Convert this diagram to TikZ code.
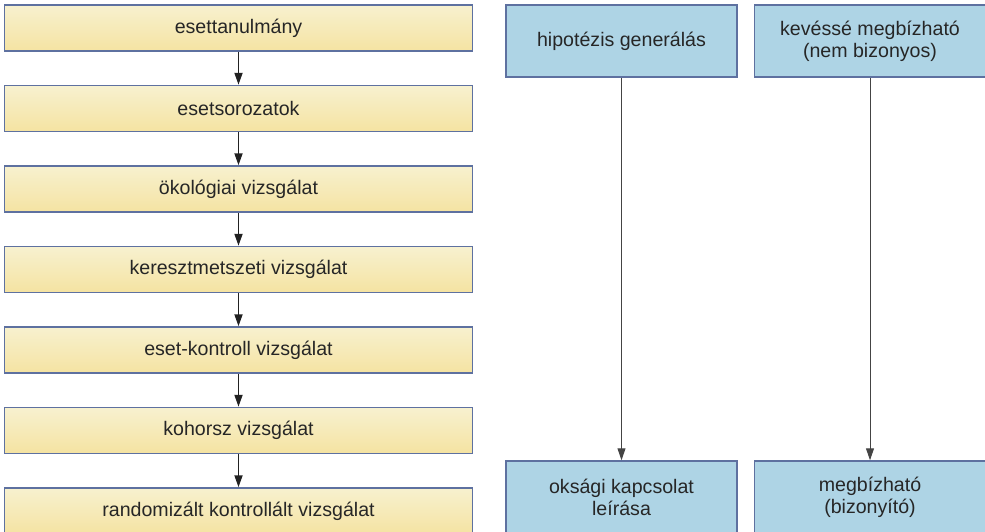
\documentclass[tikz,border=0pt]{standalone}
\usepackage{fontspec}
\setmainfont{Liberation Sans}
\usepackage{xcolor}
\usetikzlibrary{positioning, arrows.meta}

\definecolor{boxline}{HTML}{5E71A0}
\definecolor{yellowtop}{HTML}{F7F1CF}
\definecolor{yellowbot}{HTML}{F5E3A2}
\definecolor{bluefill}{HTML}{AED4E5}
\definecolor{arrowdark}{HTML}{222222}
\definecolor{arrowgray}{HTML}{444444}

\tikzset{
  studybox/.style={draw=boxline, line width=1.5pt, top color=yellowtop, bottom color=yellowbot,
    minimum width=468pt, minimum height=46pt, inner sep=0pt,
    font=\fontsize{19.6}{22}\selectfont, text=black!85},
  evidbox/.style={draw=boxline, line width=1.5pt, fill=bluefill,
    minimum width=231pt, minimum height=72pt, inner sep=0pt, align=center,
    font=\fontsize{19.6}{22}\selectfont, text=black!85},
  levelarrow/.style={-{Triangle[length=12pt,width=8pt]}, arrowdark, line width=1.8pt},
  sidearrow/.style={-{Triangle[length=12pt,width=8pt]}, arrowgray, line width=1pt}
}

\begin{document}
\begin{tikzpicture}[x=1pt,y=-1pt]

\useasboundingbox (0,0) rectangle (985,531);

% study designs, weakest to strongest
\node (esettan) at (238.5,28) [studybox] {esettanulmány};
\node (esetsor) at (238.5,108.5) [studybox] {esetsorozatok};
\node (okol) at (238.5,189) [studybox] {ökológiai vizsgálat};
\node (kereszt) at (238.5,269.5) [studybox] {keresztmetszeti vizsgálat};
\node (esetkontr) at (238.5,350) [studybox] {eset-kontroll vizsgálat};
\node (kohorsz) at (238.5,430.5) [studybox] {kohorsz vizsgálat};
\node (rct) at (238.5,511) [studybox] {randomizált kontrollált vizsgálat};

\draw [levelarrow] (esettan.south) -- (esetsor.north);
\draw [levelarrow] (esetsor.south) -- (okol.north);
\draw [levelarrow] (okol.south) -- (kereszt.north);
\draw [levelarrow] (kereszt.south) -- (esetkontr.north);
\draw [levelarrow] (esetkontr.south) -- (kohorsz.north);
\draw [levelarrow] (kohorsz.south) -- (rct.north);

% what the designs are good for
\node (hipot) at (621.5,41) [evidbox] {hipotézis generálás};
\node (oksag) at (621.5,497) [evidbox] {oksági kapcsolat\\leírása};

\node (kevesse) at (870,41) [evidbox] {kevéssé megbízható\\(nem bizonyos)};
\node (megb) at (870,497) [evidbox] {megbízható\\(bizonyító)};

\draw [sidearrow] (hipot.south) -- (oksag.north);
\draw [sidearrow] (kevesse.south) -- (megb.north);

\end{tikzpicture}
\end{document}
